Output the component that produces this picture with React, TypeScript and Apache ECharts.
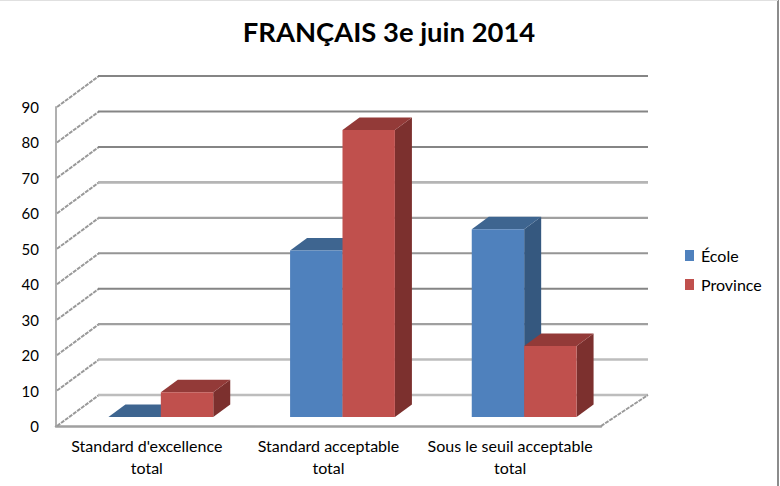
import React, { useEffect, useRef } from "react";
import * as echarts from "echarts";

const titleText = "FRANÇAIS 3e juin 2014";
const categories = ["Standard d'excellence\ntotal", "Standard acceptable\ntotal", "Sous le seuil acceptable\ntotal"];
const ecole = [0, 47, 53];
const province = [7, 81, 20];
const ticks = [0, 10, 20, 30, 40, 50, 60, 70, 80, 90];
const tickColors = ["#bdbdbd", "#bdbdbd", "#a0a0a0", "#858585", "#959595", "#a0a0a0", "#b5b5b5", "#858585", "#858585", "#858585"];
const tickWidths = [2.5, 2.5, 2.2, 2, 2, 2.2, 2.6, 2, 2, 2];

const faces = [
  { front: "#4f81bd", top: "#3e6590", side: "#35587f" },
  { front: "#c0504d", top: "#933a38", side: "#7c302e" },
];

function barRenderer(seriesIdx: number) {
  return (_p: any, api: any) => {
    const c = api.coord([api.value(0), api.value(1)]);
    const base = api.coord([api.value(0), 0]);
    const catW = api.size([1, 0])[0];
    const w = catW * 0.2885;
    const x0 = c[0] + 14 + (seriesIdx === 0 ? -w : 0);
    const x1 = x0 + w;
    const yt = c[1] - 9;
    const yb = base[1] - 9;
    const dx = 17;
    const dy = -12.5;
    const f = faces[seriesIdx];
    const children: any[] = [];
    children.push({
      type: "polygon",
      shape: { points: [[x1, yb], [x1 + dx, yb + dy], [x1 + dx, yt + dy], [x1, yt]] },
      style: { fill: f.side },
    });
    children.push({
      type: "polygon",
      shape: { points: [[x0, yt], [x0 + dx, yt + dy], [x1 + dx, yt + dy], [x1, yt]] },
      style: { fill: f.top },
    });
    if (yb - yt > 0.5) {
      children.push({
        type: "rect",
        shape: { x: x0, y: yt, width: w, height: yb - yt },
        style: { fill: f.front },
      });
    }
    return { type: "group", children };
  };
}

function wallRenderer(params: any, api: any) {
  const v = api.value(1);
  const p = api.coord([0, v]);
  const cs = params.coordSys;
  const left = cs.x;
  const right = cs.x + cs.width;
  const i = params.dataIndex;
  const backY = p[1] - 31;
  const children: any[] = [
    {
      type: "line",
      shape: { x1: left + 1, y1: p[1], x2: left + 43, y2: backY },
      style: { stroke: "#999999", lineWidth: 2, lineDash: [4, 1] },
    },
    {
      type: "line",
      shape: { x1: left + 42, y1: backY, x2: right + 47, y2: backY },
      style: { stroke: tickColors[i], lineWidth: tickWidths[i] },
    },
  ];
  if (v === 0) {
    children.push({
      type: "line",
      shape: { x1: right, y1: p[1], x2: right + 47, y2: backY },
      style: { stroke: "#999999", lineWidth: 2, lineDash: [4, 1] },
    });
  }
  return { type: "group", children };
}

export default function App() {
  const ref = useRef<HTMLDivElement>(null);
  useEffect(() => {
    document.body.style.margin = "0";
    const chart = echarts.init(ref.current!, null, { renderer: "svg" });
    chart.setOption({
      animation: false,
      backgroundColor: "#ffffff",
      textStyle: { fontFamily: "Lato" },
      title: {
        text: titleText,
        left: 384,
        top: 13,
        textAlign: "center",
        textStyle: { fontFamily: "Lato", fontWeight: "bold", fontSize: 27.4, color: "#000000" },
      },
      legend: {
        orient: "vertical",
        left: 680,
        top: 242,
        itemWidth: 9,
        itemHeight: 11,
        itemGap: 12,
        icon: "rect",
        data: ["École", "Province"],
        textStyle: { fontFamily: "Lato", fontSize: 16, lineHeight: 17, color: "#000000", padding: [0, 0, 0, 2] },
      },
      grid: { left: 56, right: 179, top: 107, bottom: 60 },
      xAxis: {
        type: "category",
        data: categories,
        axisTick: { show: false },
        axisLine: { lineStyle: { color: "#a0a0a0", width: 2.5 } },
        axisLabel: { interval: 0, margin: 8, fontFamily: "Lato", fontSize: 16, lineHeight: 22, color: "#000000" },
      },
      yAxis: {
        type: "value",
        min: 0,
        max: 90,
        interval: 10,
        axisTick: { show: false },
        axisLine: { show: true, lineStyle: { color: "#b0b0b0", width: 2 } },
        splitLine: { show: false },
        axisLabel: { margin: 17, fontFamily: "Lato", fontSize: 15, color: "#000000", padding: [2, 0, 0, 0] },
      },
      graphic: [
        { type: "line", silent: true, shape: { x1: 778, y1: 0, x2: 778, y2: 486 }, style: { stroke: "#8c8c8c", lineWidth: 2 } },
        { type: "line", silent: true, shape: { x1: 0, y1: 0.5, x2: 778, y2: 0.5 }, style: { stroke: "#e0e0e0", lineWidth: 1 } },
      ],
      series: [
        {
          type: "custom",
          name: "walls",
          renderItem: wallRenderer,
          encode: { x: 0, y: 1 },
          data: ticks.map((t) => [0, t]),
          silent: true,
        },
        {
          type: "custom",
          name: "École",
          renderItem: barRenderer(0),
          encode: { x: 0, y: 1 },
          itemStyle: { color: faces[0].front },
          data: ecole.map((v, i) => [i, v]),
        },
        {
          type: "custom",
          name: "Province",
          renderItem: barRenderer(1),
          encode: { x: 0, y: 1 },
          itemStyle: { color: faces[1].front },
          data: province.map((v, i) => [i, v]),
        },
      ],
    });
    return () => chart.dispose();
  }, []);
  return <div ref={ref} style={{ width: 780, height: 486 }} />;
}
